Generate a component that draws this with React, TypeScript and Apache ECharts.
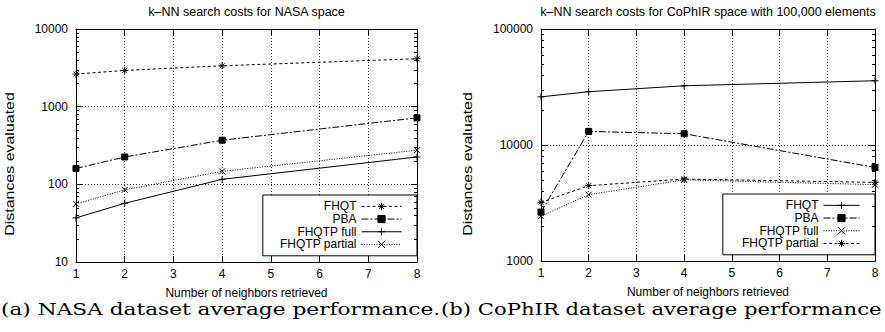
import React, { useEffect, useRef } from 'react';
import * as echarts from 'echarts';

// ---------- data ----------
const neighbors = [1, 2, 4, 8];
const xTicks = [1, 2, 3, 4, 5, 6, 7, 8];
const seriesNames = ['FHQT', 'PBA', 'FHQTP full', 'FHQTP partial'];

// (a) NASA
const nasaFHQT = [2630, 2930, 3360, 4140];
const nasaPBA = [160, 225, 370, 718];
const nasaFull = [37, 57, 116, 225];
const nasaPartial = [56, 85, 147, 275];
const nasaYRange = [10, 10000];
const nasaDecades = [10, 100, 1000];

// (b) CoPhIR
const cophirFHQT = [26000, 28800, 32400, 35800];
const cophirPBA = [2640, 13100, 12500, 6410];
const cophirFull = [2430, 3730, 5010, 4550];
const cophirPartial = [3200, 4460, 5090, 4760];
const cophirYRange = [1000, 100000];
const cophirDecades = [1000, 10000];

const minorMultipliers = [2, 3, 4, 5, 6, 7, 8, 9];

// ---------- styling ----------
const SANS = '"Liberation Sans", Arial, Helvetica, sans-serif';
const SERIF = '"DejaVu Serif", serif';
const SYM_PLUS = 'path://M0,5L10,5M5,0L5,10';
const SYM_CROSS = 'path://M0,0L10,10M10,0L0,10';
const SYM_STAR = 'path://M0,5L10,5M5,0L5,10M1.5,1.5L8.5,8.5M8.5,1.5L1.5,8.5';
const DASHED: any = [3, 2.5];
const DASHDOT: any = [7, 2, 2, 2];
const DOTTED: any = [1, 1.5];
const SEP = '\u200b|';

type SDef = { name: string; data: number[]; symbol: string; size: number; dash: any };

type Panel = {
  key: string;
  grid: { left: number; top: number; width: number; height: number };
  yRange: number[];
  decades: number[];
  series: SDef[];
  title: string;
  caption: string;
  captionX: number;
  captionScale: number;
  yNameX: number;
  legend: { right: number; top: number; itemWidth: number; padding: number[] };
};

const panels: Panel[] = [
  {
    key: 'a',
    grid: { left: 76, top: 29, width: 341, height: 233 },
    yRange: nasaYRange,
    decades: nasaDecades,
    series: [
      { name: 'FHQT', data: nasaFHQT, symbol: SYM_STAR, size: 7, dash: DASHED },
      { name: 'PBA', data: nasaPBA, symbol: 'rect', size: 6, dash: DASHDOT },
      { name: 'FHQTP full', data: nasaFull, symbol: SYM_PLUS, size: 7, dash: 'solid' },
      { name: 'FHQTP partial', data: nasaPartial, symbol: SYM_CROSS, size: 6, dash: DOTTED },
    ],
    title: 'k–NN search costs for NASA space',
    caption: '(a) NASA dataset average performance.',
    captionX: 1,
    captionScale: 1.275,
    yNameX: 10,
    legend: { right: 468, top: 195, itemWidth: 40, padding: [5, 15, 5, 17] },
  },
  {
    key: 'b',
    grid: { left: 541, top: 29, width: 334, height: 232 },
    yRange: cophirYRange,
    decades: cophirDecades,
    series: [
      { name: 'FHQT', data: cophirFHQT, symbol: SYM_PLUS, size: 7, dash: 'solid' },
      { name: 'PBA', data: cophirPBA, symbol: 'rect', size: 6, dash: DASHDOT },
      { name: 'FHQTP full', data: cophirFull, symbol: SYM_CROSS, size: 6, dash: DOTTED },
      { name: 'FHQTP partial', data: cophirPartial, symbol: SYM_STAR, size: 7, dash: DASHED },
    ],
    title: 'k–NN search costs for CoPhIR space with 100,000 elements',
    caption: '(b) CoPhIR dataset average performance',
    captionX: 441,
    captionScale: 1.245,
    yNameX: 468,
    legend: { right: 10, top: 194, itemWidth: 36, padding: [5, 15, 5, 19] },
  },
];

function buildOption(): any {
  const xMin = xTicks[0];
  const xMax = xTicks[xTicks.length - 1];
  const axisLine = { show: true, lineStyle: { color: '#000', width: 1 } };
  const tick = { show: true, inside: true, length: 6, lineStyle: { color: '#000' } };
  const label = { color: '#000', fontSize: 12, fontFamily: SANS };
  const splitLine = { show: true, lineStyle: { color: '#333', width: 1, type: [1, 2] } };

  const grid: any[] = [];
  const xAxis: any[] = [];
  const yAxis: any[] = [];
  const legend: any[] = [];
  const graphic: any[] = [];
  const series: any[] = [];

  panels.forEach((p, pi) => {
    const g = p.grid;
    grid.push({ left: g.left, top: g.top, width: g.width, height: g.height });
    const bx = xAxis.length;
    xAxis.push(
      {
        type: 'value', gridIndex: pi, position: 'bottom', min: xMin, max: xMax, interval: 1,
        axisLine, axisTick: tick, axisLabel: { ...label, margin: 6 }, splitLine,
        name: 'Number of neighbors retrieved', nameLocation: 'middle', nameGap: 25,
        nameTextStyle: { color: '#000', fontSize: 12, fontFamily: SANS },
      },
      {
        type: 'value', gridIndex: pi, position: 'top', min: xMin, max: xMax, interval: 1,
        axisLine, axisTick: tick, axisLabel: { show: false }, splitLine: { show: false },
      },
    );
    const by = yAxis.length;
    yAxis.push(
      {
        type: 'log', logBase: 10, gridIndex: pi, position: 'left', min: p.yRange[0], max: p.yRange[1],
        axisLine, axisTick: tick,
        axisLabel: { ...label, margin: 8, formatter: (v: number) => String(Math.round(v)) },
        splitLine,
      },
      {
        type: 'log', logBase: 10, gridIndex: pi, position: 'right', min: p.yRange[0], max: p.yRange[1],
        axisLine, axisTick: tick, axisLabel: { show: false }, splitLine: { show: false },
      },
    );

    legend.push({
      orient: 'vertical',
      right: p.legend.right,
      top: p.legend.top,
      align: 'right',
      data: p.series.map((s) => p.key + SEP + s.name),
      formatter: (n: string) => n.split(SEP)[1],
      itemWidth: p.legend.itemWidth,
      itemHeight: 9,
      itemGap: 0,
      padding: p.legend.padding,
      backgroundColor: '#fff',
      borderColor: '#000',
      borderWidth: 1,
      borderRadius: 0,
      selectedMode: false,
      itemStyle: { borderWidth: 1 },
      lineStyle: { width: 1 },
      textStyle: { color: '#000', fontSize: 12, fontFamily: SANS, lineHeight: 12.7 },
    });

    graphic.push(
      {
        type: 'text', x: g.left + g.width / 2, y: 12,
        style: { text: p.title, fill: '#000', font: `12.5px ${SANS}`, align: 'center', verticalAlign: 'middle', textAlign: 'center', textVerticalAlign: 'middle' },
      },
      {
        type: 'text', x: p.yNameX, y: 164, rotation: Math.PI / 2, scaleX: 1.33,
        style: { text: 'Distances evaluated', fill: '#000', font: `12px ${SANS}`, align: 'center', verticalAlign: 'middle', textAlign: 'center', textVerticalAlign: 'middle' },
      },
      {
        type: 'text', x: p.captionX, y: 309, scaleX: p.captionScale,
        style: { text: p.caption, fill: '#000', font: `17px ${SERIF}`, align: 'left', verticalAlign: 'middle', textAlign: 'left', textVerticalAlign: 'middle' },
      },
    );

    p.series.forEach((s) => {
      series.push({
        name: p.key + SEP + s.name,
        type: 'line',
        xAxisIndex: bx,
        yAxisIndex: by,
        data: neighbors.map((x, i) => [x, s.data[i]]),
        symbol: s.symbol,
        symbolSize: s.size,
        showSymbol: true,
        lineStyle: { color: '#000', width: 1, type: s.dash },
        itemStyle: { color: '#000', borderColor: '#000', borderWidth: 1 },
        z: 3,
      });
    });

    const minor: number[] = [];
    p.decades.forEach((d) => minorMultipliers.forEach((m) => minor.push(m * d)));
    series.push({
      type: 'custom',
      silent: true,
      xAxisIndex: bx,
      yAxisIndex: by,
      z: 4,
      data: minor.map((v) => [xMin, v]),
      encode: { x: 0, y: 1 },
      renderItem: (_p: any, api: any) => {
        const v = api.value(1);
        const a = api.coord([xMin, v]);
        const b = api.coord([xMax, v]);
        const y = Math.round(a[1]) + 0.5;
        return {
          type: 'group',
          children: [
            { type: 'line', shape: { x1: a[0], y1: y, x2: a[0] + 3, y2: y }, style: { stroke: '#000', lineWidth: 1 } },
            { type: 'line', shape: { x1: b[0] - 3, y1: y, x2: b[0], y2: y }, style: { stroke: '#000', lineWidth: 1 } },
          ],
        };
      },
    });
  });

  return {
    animation: false,
    backgroundColor: '#fff',
    textStyle: { fontFamily: SANS },
    grid,
    xAxis,
    yAxis,
    legend,
    graphic,
    series,
  };
}

export default function App() {
  const ref = useRef<HTMLDivElement>(null);
  useEffect(() => {
    const chart = echarts.init(ref.current as HTMLDivElement, undefined, { renderer: 'svg' });
    chart.setOption(buildOption());
    return () => {
      chart.dispose();
    };
  }, []);
  return (
    <div
      ref={ref}
      style={{ position: 'absolute', left: 0, top: 0, width: 885, height: 332, background: '#fff' }}
    />
  );
}
